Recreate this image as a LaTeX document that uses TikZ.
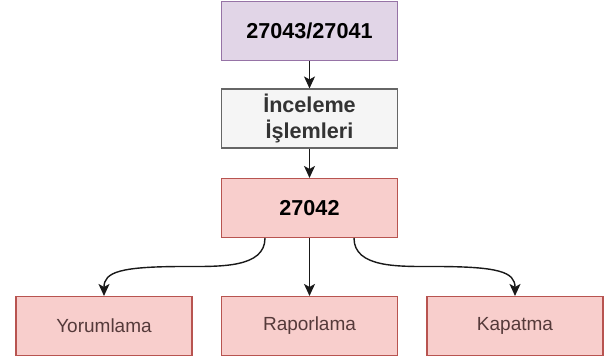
\documentclass[tikz,border=0pt]{standalone}
\usepackage{fontspec}
\setmainfont{Liberation Sans}
\usetikzlibrary{arrows.meta}
\definecolor{purpfill}{HTML}{E1D5E7}
\definecolor{purpline}{HTML}{9673A6}
\definecolor{grayfill}{HTML}{F5F5F5}
\definecolor{grayline}{HTML}{666666}
\definecolor{pinkfill}{HTML}{F8CECC}
\definecolor{pinkline}{HTML}{B85450}
\definecolor{btext}{HTML}{553A3A}
\definecolor{gtext}{HTML}{333333}
\begin{document}
\begin{tikzpicture}[x=1pt,y=-1pt,
  box/.style={rectangle, draw, line width=1.1pt, minimum width=176pt, minimum height=59pt, inner sep=0pt, align=center},
  topbox/.style={box, fill=purpfill, draw=purpline, font=\fontsize{21.6}{26}\selectfont\bfseries},
  graybox/.style={box, fill=grayfill, draw=grayline, text=gtext, font=\fontsize{21.6}{26}\selectfont\bfseries},
  midbox/.style={box, fill=pinkfill, draw=pinkline, font=\fontsize{21.6}{26}\selectfont\bfseries},
  leafbox/.style={box, fill=pinkfill, draw=pinkline, text=btext, font=\fontsize{19}{22}\selectfont},
  conn/.style={draw=black!90, line width=1.4pt, -{Stealth[length=12pt,width=11pt,inset=3pt]}}
]
\useasboundingbox (0,0) rectangle (611,363);
\fill[white] (0,0) rectangle (611,363);
\node[topbox] (A) at (309.5,31) {27043/27041};
\node[graybox] (B) at (309.5,118.5) {İnceleme\\İşlemleri};
\node[midbox] (C) at (309.5,208) {27042};
\node[leafbox] (D) at (104,326) {Yorumlama};
\node[leafbox] (E) at (309.5,326) {Raporlama};
\node[leafbox] (F) at (515,326) {Kapatma};
\draw[conn] (A.south) -- (B.north);
\draw[conn] (B.south) -- (C.north);
\draw[conn] (C.south) -- (E.north);
\draw[conn] ([xshift=-44.5pt]C.south) .. controls +(0,30) and +(35,0) .. (185,266.5) .. controls +(-65,0) and +(0,-24) .. (D.north);
\draw[conn] ([xshift=44.5pt]C.south) .. controls +(0,30) and +(-35,0) .. (434,266.5) .. controls +(65,0) and +(0,-24) .. (F.north);
\end{tikzpicture}
\end{document}
